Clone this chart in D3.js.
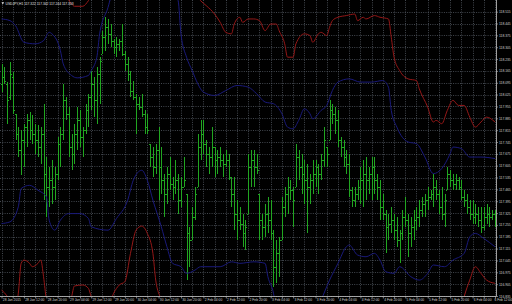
<!DOCTYPE html>
<html>
<head>
<meta charset="utf-8">
<script src="https://cdn.jsdelivr.net/npm/d3@7"></script>
<style>
html, body { margin: 0; padding: 0; background: #000; overflow: hidden; }
svg { display: block; }
text { font-family: "Liberation Sans", Arial, sans-serif; }
</style>
</head>
<body>
<div id="chart"></div>
<script>
const symbol = "USDJPY,H1";

const timeLabels = ["28 Jan 2015", "28 Jan 12:00", "28 Jan 20:00", "29 Jan 04:00", "29 Jan 12:00",
  "29 Jan 20:00", "30 Jan 04:00", "30 Jan 12:00", "30 Jan 20:00", "2 Feb 04:00", "2 Feb 12:00",
  "2 Feb 20:00", "3 Feb 04:00", "3 Feb 12:00", "3 Feb 20:00", "4 Feb 04:00", "4 Feb 12:00",
  "4 Feb 20:00", "5 Feb 04:00", "5 Feb 12:00", "5 Feb 20:00", "6 Feb 04:00", "6 Feb 12:00"];

const priceTicks = [116.835, 116.905, 116.975, 117.045, 117.115, 117.185, 117.255, 117.325,
  117.395, 117.465, 117.535, 117.605, 117.675, 117.745, 117.815, 117.885, 117.955, 118.025,
  118.095, 118.165, 118.235, 118.305, 118.375, 118.445, 118.515];

// hourly bars
const opens = [
  118.089, 118.128, 118.089, 118.010, 118.128, 117.912, 117.794, 117.696, 117.755, 117.833,
  117.873, 117.814, 117.794, 117.755, 117.715, 117.794, 117.558, 117.480, 117.519, 117.480,
  117.558, 117.735, 117.794, 117.991, 117.912, 117.715, 117.676, 117.794, 117.873, 117.774,
  117.814, 117.932, 118.010, 118.089, 117.991, 118.148, 118.266, 118.364, 118.423, 118.384,
  118.344, 118.305, 118.325, 118.344, 118.266, 118.207, 118.148, 118.049, 118.010, 117.971,
  117.951, 117.912, 117.833, 117.735, 117.656, 117.598, 117.696, 117.598, 117.519, 117.440,
  117.558, 117.499, 117.480, 117.519, 117.401, 117.480, 117.440, 117.205, 117.165, 117.303,
  117.480, 117.715, 117.794, 117.735, 117.676, 117.656, 117.715, 117.637, 117.656, 117.637,
  117.617, 117.637, 117.539, 117.440, 117.322, 117.283, 117.263, 117.205, 117.322, 117.598,
  117.637, 117.598, 117.440, 117.283, 117.244, 117.322, 117.283, 117.205, 117.008, 117.087,
  117.165, 117.362, 117.440, 117.480, 117.460, 117.480, 117.656, 117.598, 117.558, 117.519,
  117.480, 117.519, 117.558, 117.598, 117.558, 117.637, 117.715, 117.755, 117.932, 117.912,
  117.873, 117.755, 117.715, 117.656, 117.617, 117.460, 117.401, 117.440, 117.480, 117.519,
  117.558, 117.519, 117.558, 117.598, 117.519, 117.480, 117.362, 117.322, 117.244, 117.263,
  117.283, 117.224, 117.165, 117.205, 117.303, 117.283, 117.205, 117.244, 117.283, 117.303,
  117.342, 117.381, 117.401, 117.421, 117.440, 117.480, 117.440, 117.362, 117.322, 117.460,
  117.558, 117.519, 117.499, 117.519, 117.480, 117.421, 117.401, 117.362, 117.322, 117.303,
  117.322, 117.283, 117.244, 117.303, 117.322, 117.303, 117.322];

const highs = [
  118.207, 118.187, 118.099, 118.216, 118.158, 117.912, 117.833, 117.814, 117.853, 117.912,
  117.922, 117.902, 117.853, 117.843, 117.833, 117.971, 117.656, 117.598, 117.637, 117.598,
  117.774, 117.833, 118.089, 118.010, 117.951, 117.794, 117.853, 117.951, 117.932, 117.833,
  117.971, 118.030, 118.167, 118.128, 118.187, 118.246, 118.403, 118.482, 118.472, 118.442,
  118.354, 118.364, 118.354, 118.442, 118.285, 118.246, 118.167, 118.108, 118.030, 118.010,
  118.030, 117.932, 117.912, 117.735, 117.715, 117.735, 117.833, 117.715, 117.558, 117.598,
  117.656, 117.539, 117.637, 117.558, 117.539, 117.656, 117.440, 117.244, 117.362, 117.480,
  117.794, 117.873, 117.873, 117.755, 117.715, 117.833, 117.715, 117.696, 117.715, 117.676,
  117.696, 117.676, 117.539, 117.539, 117.401, 117.362, 117.322, 117.283, 117.676, 117.696,
  117.696, 117.676, 117.440, 117.322, 117.381, 117.421, 117.401, 117.224, 117.165, 117.185,
  117.421, 117.480, 117.539, 117.519, 117.480, 117.735, 117.696, 117.676, 117.637, 117.617,
  117.558, 117.637, 117.637, 117.617, 117.676, 117.833, 117.715, 117.991, 117.971, 117.951,
  117.932, 117.774, 117.755, 117.696, 117.676, 117.480, 117.480, 117.519, 117.598, 117.637,
  117.656, 117.598, 117.656, 117.656, 117.558, 117.519, 117.440, 117.342, 117.322, 117.362,
  117.322, 117.303, 117.224, 117.342, 117.421, 117.322, 117.303, 117.342, 117.362, 117.401,
  117.421, 117.440, 117.480, 117.460, 117.558, 117.519, 117.460, 117.480, 117.440, 117.598,
  117.578, 117.558, 117.558, 117.539, 117.519, 117.460, 117.440, 117.401, 117.401, 117.381,
  117.362, 117.362, 117.362, 117.381, 117.362, 117.342, 117.342];

const lows = [
  118.040, 118.089, 117.853, 117.991, 117.912, 117.755, 117.656, 117.548, 117.598, 117.715,
  117.755, 117.735, 117.676, 117.656, 117.617, 117.401, 117.303, 117.362, 117.381, 117.401,
  117.519, 117.598, 117.755, 117.873, 117.656, 117.578, 117.617, 117.696, 117.715, 117.656,
  117.794, 117.833, 117.932, 117.892, 117.853, 117.971, 118.266, 118.285, 118.325, 118.305,
  118.266, 118.246, 118.285, 118.256, 118.167, 118.108, 118.010, 117.991, 117.794, 117.932,
  117.892, 117.794, 117.794, 117.598, 117.539, 117.558, 117.401, 117.440, 117.303, 117.381,
  117.460, 117.401, 117.440, 117.322, 117.362, 117.480, 116.929, 117.008, 117.165, 117.283,
  117.480, 117.637, 117.676, 117.598, 117.558, 117.598, 117.539, 117.558, 117.598, 117.539,
  117.598, 117.519, 117.362, 117.224, 117.165, 117.224, 117.126, 117.106, 117.322, 117.480,
  117.480, 117.558, 117.165, 117.165, 117.185, 117.205, 117.165, 116.890, 116.910, 116.949,
  117.165, 117.303, 117.322, 117.401, 117.244, 117.480, 117.519, 117.440, 117.381, 117.205,
  117.381, 117.440, 117.480, 117.440, 117.519, 117.598, 117.598, 117.755, 117.853, 117.794,
  117.715, 117.656, 117.598, 117.558, 117.421, 117.362, 117.362, 117.401, 117.381, 117.362,
  117.401, 117.440, 117.401, 117.440, 117.401, 117.283, 117.283, 117.087, 117.165, 117.205,
  117.165, 117.126, 117.028, 117.165, 117.244, 117.067, 117.126, 117.165, 117.224, 117.244,
  117.303, 117.303, 117.342, 117.401, 117.362, 117.401, 117.322, 117.283, 117.244, 117.460,
  117.480, 117.460, 117.460, 117.460, 117.401, 117.362, 117.322, 117.283, 117.263, 117.263,
  117.244, 117.205, 117.224, 117.263, 117.244, 117.283, 117.244];

const closes = [
  118.128, 118.108, 117.991, 118.148, 117.932, 117.794, 117.696, 117.755, 117.833, 117.873,
  117.814, 117.794, 117.755, 117.715, 117.794, 117.558, 117.480, 117.519, 117.480, 117.558,
  117.735, 117.794, 117.991, 117.912, 117.715, 117.676, 117.794, 117.873, 117.774, 117.814,
  117.932, 118.010, 118.089, 117.991, 118.148, 118.226, 118.364, 118.423, 118.384, 118.344,
  118.305, 118.325, 118.344, 118.266, 118.207, 118.148, 118.049, 118.010, 117.971, 117.951,
  117.912, 117.833, 117.814, 117.656, 117.598, 117.696, 117.598, 117.519, 117.440, 117.558,
  117.499, 117.480, 117.519, 117.401, 117.480, 117.519, 117.205, 117.165, 117.303, 117.440,
  117.715, 117.794, 117.735, 117.676, 117.656, 117.715, 117.637, 117.656, 117.637, 117.617,
  117.637, 117.539, 117.440, 117.322, 117.283, 117.263, 117.205, 117.244, 117.598, 117.637,
  117.598, 117.578, 117.283, 117.244, 117.322, 117.283, 117.205, 117.008, 117.087, 117.165,
  117.362, 117.440, 117.480, 117.460, 117.401, 117.656, 117.598, 117.558, 117.519, 117.480,
  117.519, 117.558, 117.598, 117.558, 117.637, 117.755, 117.676, 117.932, 117.912, 117.873,
  117.755, 117.715, 117.656, 117.617, 117.460, 117.401, 117.440, 117.480, 117.519, 117.558,
  117.519, 117.558, 117.598, 117.519, 117.480, 117.362, 117.322, 117.244, 117.263, 117.283,
  117.224, 117.165, 117.205, 117.303, 117.283, 117.205, 117.244, 117.283, 117.303, 117.342,
  117.381, 117.401, 117.421, 117.440, 117.480, 117.440, 117.362, 117.322, 117.401, 117.558,
  117.519, 117.499, 117.519, 117.480, 117.421, 117.401, 117.362, 117.322, 117.303, 117.322,
  117.283, 117.244, 117.303, 117.322, 117.303, 117.322, 117.303];

// indicator lines, read as [bar index] / [price] pairs (values beyond the visible range are clipped)
const blueUpperIdx = [0, 3, 5, 8, 12, 15, 17, 18, 21, 22, 25, 27, 31, 32, 34, 35, 38, 39, 44, 50, 58, 63,
  64, 66, 68, 70, 72, 76, 80, 84, 88, 91, 94, 97, 100, 102, 104, 106, 108, 110, 111, 114, 116, 118,
  120, 124, 128, 132, 136, 138, 139, 141, 145, 148, 151, 154, 157, 160, 161, 164, 167, 171, 176];
const blueUpperVal = [118.472, 118.462, 118.433, 118.334, 118.325, 118.344, 118.393, 118.384, 118.285,
  118.207, 118.138, 118.124, 118.138, 118.167, 118.246, 118.384, 118.541, 118.600, 118.720, 118.820,
  118.740, 118.580, 118.384, 118.246, 118.167, 118.089, 118.040, 118.020, 118.049, 118.079, 118.069,
  118.030, 117.981, 117.971, 117.912, 117.833, 117.823, 117.873, 117.941, 117.912, 117.882, 117.932,
  117.961, 118.049, 118.099, 118.118, 118.099, 118.099, 118.108, 118.069, 117.932, 117.833, 117.745,
  117.735, 117.656, 117.558, 117.588, 117.676, 117.715, 117.706, 117.656, 117.656, 117.647];

const blueLowerIdx = [0, 3, 6, 7, 10, 13, 16, 17, 19, 21, 24, 28, 31, 32, 38, 41, 45, 47, 50, 52, 54,
  57, 59, 61, 64, 66, 69, 71, 78, 82, 85, 90, 94, 95, 97, 98, 107, 114, 117, 120, 123, 124, 127, 130,
  133, 135, 137, 140, 142, 146, 149, 152, 154, 158, 161, 165, 167, 169, 172, 176];
const blueLowerVal = [117.263, 117.273, 117.362, 117.470, 117.489, 117.460, 117.421, 117.283, 117.224,
  117.283, 117.322, 117.322, 117.293, 117.244, 117.224, 117.293, 117.401, 117.519, 117.578, 117.519,
  117.401, 117.244, 117.126, 117.028, 117.008, 116.969, 116.988, 117.008, 117.008, 117.037, 117.028,
  117.037, 117.028, 116.949, 116.851, 116.753, 116.615, 116.812, 116.929, 117.028, 117.126, 117.136,
  117.077, 117.067, 117.087, 117.047, 116.979, 116.969, 117.008, 116.949, 116.929, 116.969, 117.018,
  117.008, 117.047, 117.087, 117.185, 117.205, 117.175, 117.126];

const redUpperIdx = [0, 12, 22, 25, 26, 29, 31, 35, 50, 65, 71, 73, 76, 78, 80, 82, 83, 85, 86, 88, 90,
  92, 94, 96, 98, 99, 101, 102, 104, 105, 108, 110, 111, 113, 114, 116, 117, 118, 120, 123, 126, 127,
  129, 130, 133, 135, 138, 139, 140, 142, 145, 148, 149, 152, 154, 155, 157, 159, 161, 163, 165, 167,
  169, 171, 173, 176];
const redUpperVal = [118.750, 118.780, 118.640, 118.560, 118.547, 118.547, 118.580, 118.700, 118.860,
  118.740, 118.580, 118.551, 118.501, 118.452, 118.393, 118.384, 118.442, 118.482, 118.452, 118.472,
  118.472, 118.462, 118.403, 118.442, 118.442, 118.403, 118.325, 118.246, 118.246, 118.325, 118.384,
  118.374, 118.334, 118.384, 118.393, 118.374, 118.423, 118.462, 118.482, 118.492, 118.501, 118.462,
  118.482, 118.472, 118.492, 118.482, 118.472, 118.364, 118.246, 118.167, 118.118, 118.108, 118.059,
  117.951, 117.863, 117.873, 117.853, 117.932, 117.991, 117.961, 117.961, 117.892, 117.833, 117.863,
  117.892, 117.863];

const redLowerIdx = [0, 1, 3, 5, 6, 7, 8, 10, 11, 13, 14, 15, 16, 18, 22, 25, 26, 29, 31, 32, 35, 39,
  40, 42, 44, 46, 48, 50, 52, 54, 55, 57, 60, 90, 130, 163, 165, 167, 169, 171, 173, 176];
const redLowerVal = [116.870, 116.855, 116.812, 116.772, 116.851, 117.028, 117.047, 117.028, 117.008,
  117.028, 117.047, 116.949, 116.812, 116.713, 116.733, 116.831, 116.894, 116.900, 116.880, 116.831,
  116.753, 116.812, 116.851, 116.900, 116.920, 117.087, 117.224, 117.248, 117.205, 117.087, 116.929,
  116.812, 116.694, 116.420, 116.520, 116.694, 116.831, 116.929, 117.008, 116.969, 116.929, 116.910];

const W = 512, H = 304;
const plotRight = 496.5, plotBottom = 296;
const n = closes.length;
const fontSize = "3.3px";

const x = d3.scaleLinear().domain([0, n - 1]).range([1.5, 495]);
const y = d3.scaleLinear().domain([116.835, 118.584]).range([plotBottom, 0]);
const col = (i) => Math.round(x(i));

const svg = d3.select("#chart").append("svg")
  .attr("width", W)
  .attr("height", H);

svg.append("rect").attr("width", W).attr("height", H).attr("fill", "#000");

svg.append("defs").append("clipPath").attr("id", "plot")
  .append("rect").attr("width", plotRight).attr("height", plotBottom);

// dotted grid
const vGrid = d3.range(0, n, 4);
const grid = svg.append("g")
  .attr("stroke", "#5f6670")
  .attr("stroke-width", 0.7)
  .attr("stroke-dasharray", "1,1.3");
grid.selectAll(".hgrid").data(priceTicks).enter().append("line")
  .attr("class", "hgrid")
  .attr("x1", 0).attr("x2", plotRight)
  .attr("y1", (d) => Math.round(y(d)) + 0.5).attr("y2", (d) => Math.round(y(d)) + 0.5);
grid.selectAll(".vgrid").data(vGrid).enter().append("line")
  .attr("class", "vgrid")
  .attr("x1", (d) => col(d) + 0.5).attr("x2", (d) => col(d) + 0.5)
  .attr("y1", 0).attr("y2", plotBottom);

// ohlc bars: stem, open tick to the left, close tick to the right
const barG = svg.append("g")
  .attr("clip-path", "url(#plot)")
  .attr("fill", "#21a621")
  .attr("shape-rendering", "crispEdges");
const bar = barG.selectAll("g").data(d3.range(n)).enter().append("g");
bar.append("rect")
  .attr("x", (i) => col(i))
  .attr("width", 1)
  .attr("y", (i) => y(highs[i]))
  .attr("height", (i) => Math.max(1, y(lows[i]) - y(highs[i])));
bar.append("rect")
  .attr("x", (i) => col(i) - 1)
  .attr("width", 1)
  .attr("y", (i) => Math.round(y(opens[i])))
  .attr("height", 1);
bar.append("rect")
  .attr("x", (i) => col(i) + 1)
  .attr("width", 1)
  .attr("y", (i) => Math.round(y(closes[i])))
  .attr("height", 1);

// indicator lines
const lineGen = d3.line()
  .x((d) => x(d[0]))
  .y((d) => y(d[1]))
  .curve(d3.curveMonotoneX);

const indicators = [
  [blueUpperIdx, blueUpperVal, "#1a1a7a"],
  [blueLowerIdx, blueLowerVal, "#1a1a7a"],
  [redUpperIdx, redUpperVal, "#941818"],
  [redLowerIdx, redLowerVal, "#941818"]
];
const lineG = svg.append("g").attr("clip-path", "url(#plot)");
indicators.forEach(([idx, vals, c]) => {
  lineG.append("path")
    .datum(idx.map((d, k) => [d, vals[k]]))
    .attr("fill", "none")
    .attr("stroke", c)
    .attr("stroke-width", 1)
    .attr("d", lineGen);
});

// frame
svg.append("path")
  .attr("d", "M" + plotRight + ",0V" + (plotBottom + 0.5) + "H0")
  .attr("fill", "none")
  .attr("stroke", "#c8c8c8")
  .attr("stroke-width", 0.8);

// price axis
const yAxis = d3.axisRight(y)
  .tickValues(priceTicks)
  .tickFormat(d3.format(".3f"))
  .tickSize(1.5)
  .tickPadding(1);
const yAx = svg.append("g")
  .attr("transform", "translate(" + plotRight + ",0)")
  .call(yAxis);
yAx.select(".domain").remove();
yAx.selectAll("line").attr("stroke", "#c8c8c8").attr("stroke-width", 0.6);
yAx.selectAll("text").attr("fill", "#d0d0d0").attr("font-size", fontSize)
  .attr("font-family", "Liberation Sans, Arial, sans-serif");

// time axis
const xAxis = d3.axisBottom(x)
  .tickValues(vGrid)
  .tickFormat((d) => (d % 8 === 0 ? timeLabels[d / 8] : ""))
  .tickSize(2)
  .tickPadding(0);
const xAx = svg.append("g")
  .attr("transform", "translate(0," + (plotBottom + 0.5) + ")")
  .call(xAxis);
xAx.select(".domain").remove();
xAx.selectAll("line").attr("stroke", "#c8c8c8").attr("stroke-width", 0.6);
xAx.selectAll("text")
  .attr("fill", "#d0d0d0")
  .attr("font-size", fontSize)
  .attr("font-family", "Liberation Sans, Arial, sans-serif")
  .attr("text-anchor", "start")
  .attr("x", 0.8)
  .attr("y", 2.4)
  .attr("dy", "0.71em");
// keep the last time label inside the picture
xAx.selectAll(".tick").filter((d) => d === n - 1).select("text")
  .attr("text-anchor", "end")
  .attr("x", W - 0.5 - x(n - 1));

// title
svg.append("path").attr("d", "M1.5,2.3H4.1L2.8,4.4Z").attr("fill", "#e0e0e0");
svg.append("text")
  .attr("x", 5.5)
  .attr("y", 4.8)
  .attr("fill", "#e0e0e0")
  .attr("font-size", fontSize)
  .text(symbol + "  " + [opens[n - 1], highs[n - 1], lows[n - 1], closes[n - 1]]
    .map((d) => d.toFixed(3)).join(" "));
</script>
</body>
</html>
